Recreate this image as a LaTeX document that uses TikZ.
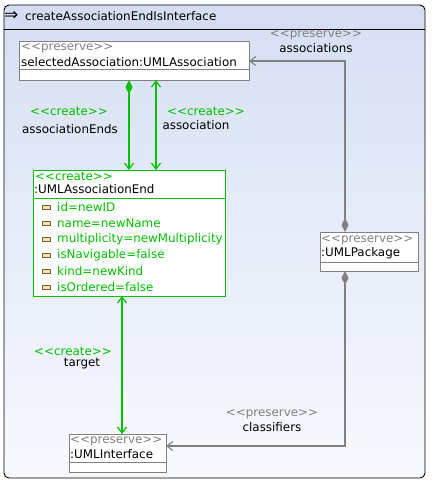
\documentclass[tikz,border=0pt]{standalone}
\usepackage{fontspec}
\setmainfont{DejaVu Sans}[Ligatures=TeXOff]
\usetikzlibrary{arrows.meta,calc}
\definecolor{crgreen}{HTML}{00C000}
\definecolor{prgray}{HTML}{808080}
\definecolor{titlefill}{HTML}{D4DDF2}
\definecolor{bodytop}{HTML}{D7E1F4}
\definecolor{bodybot}{HTML}{F8F9FE}
\definecolor{iconfill}{HTML}{F2E4B0}
\definecolor{iconline}{HTML}{7A6228}
\begin{document}
\begin{tikzpicture}[x=1pt,y=-1pt,
  font=\fontsize{11.9}{13}\selectfont,
  obj/.style={draw=prgray, fill=white, line width=0.9pt, anchor=north west, inner sep=0, rectangle},
  objnew/.style={obj, draw=crgreen},
  txt/.style={anchor=west, inner sep=0},
  lbl/.style={inner sep=0},
  stpres/.style={text=prgray},
  stcre/.style={text=crgreen},
  attricon/.style={draw=iconline, fill=iconfill, line width=0.6pt, minimum width=8pt, minimum height=4pt, inner sep=0, rectangle},
  barb/.tip={Straight Barb[length=6pt,width=9pt]},
  comp/.tip={Diamond[length=14pt,width=7pt]},
  grayln/.style={draw=prgray, line width=1.1pt},
  greenln/.style={draw=crgreen, line width=1.2pt}]
\useasboundingbox (0,0) rectangle (432,485);

% frame with title bar and shaded body
\begin{scope}
  \clip[rounded corners=5pt] (4,5) rectangle (425,478);
  \fill[titlefill] (4,5) rectangle (425,29);
  \shade[top color=bodytop, bottom color=bodybot] (4,29) rectangle (425,478);
\end{scope}
\draw[line width=0.9pt, rounded corners=5pt] (4,5) rectangle (425,478);
\draw[line width=0.9pt] (4,29) -- (425,29);
\node[txt] (arrowsym) at (4,16) {\fontsize{17}{17}\selectfont ⇒};
\node[txt] (title) at (25,16) {createAssociationEndIsInterface};

% selectedAssociation
\node[obj, minimum width=230pt, minimum height=39pt] (sa) at (19,41) {};
\draw[prgray, line width=0.9pt] (19,69) -- (249,69);
\node[txt, stpres] (saS) at (21,48) {<<preserve>>};
\node[txt] (saN) at (21,62) {selectedAssociation:UMLAssociation};

% UMLAssociationEnd
\node[objnew, minimum width=192pt, minimum height=126pt] (ae) at (33,170) {};
\draw[crgreen, line width=0.9pt] (33,198) -- (225,198);
\node[txt, stcre] (aeS) at (35,176) {<<create>>};
\node[txt] (aeN) at (34,189) {:UMLAssociationEnd};
\foreach \k/\t [count=\i] in {0/id=newID,1/name=newName,2/multiplicity=newMultiplicity,3/isNavigable=false,4/kind=newKind,5/isOrdered=false}{
  \node[attricon] (ic\i) at (46,{207+16*\k}) {};
  \node[txt, stcre] (at\i) at (57,{207+16*\k}) {\t};
}

% UMLPackage
\node[obj, minimum width=98pt, minimum height=39pt] (pk) at (320,232) {};
\draw[prgray, line width=0.9pt] (320,262) -- (418,262);
\node[txt, stpres] (pkS) at (321,240) {<<preserve>>};
\node[txt] (pkN) at (321,253) {:UMLPackage};

% UMLInterface
\node[obj, minimum width=97pt, minimum height=38pt] (ui) at (69,434) {};
\draw[prgray, line width=0.9pt] (69,462) -- (166,462);
\node[txt, stpres] (uiS) at (70,441) {<<preserve>>};
\node[txt] (uiN) at (70,454) {:UMLInterface};

% connector end points
\coordinate (pkTop) at (345,232);
\coordinate (pkBot) at (345,271);
\coordinate (saR) at (249,61);
\coordinate (uiR) at (166,446);
\coordinate (saB1) at (129,80);
\coordinate (aeT1) at (129,170);
\coordinate (saB2) at (156,80);
\coordinate (aeT2) at (156,170);
\coordinate (aeB) at (122,296);
\coordinate (uiT) at (122,434);

% associations (preserve)
\draw[grayln, {comp[fill=prgray]}-{barb}] (pkTop) |- (saR);
\node[lbl, stpres] (l1s) at (316,35) {<<preserve>>};
\node[lbl] (l1n) at (316,48) {associations};

% classifiers (preserve)
\draw[grayln, {comp[fill=prgray]}-{barb}] (pkBot) |- (uiR);
\node[lbl, stpres] (l2s) at (272,414) {<<preserve>>};
\node[lbl] (l2n) at (272,427) {classifiers};

% associationEnds (create)
\draw[greenln, {comp[fill=crgreen]}-{barb}] (saB1) -- (aeT1);
\node[lbl, stcre] (l3s) at (69,111) {<<create>>};
\node[lbl] (l3n) at (70,129) {associationEnds};

% association (create)
\draw[greenln, {barb}-{barb}] (saB2) -- (aeT2);
\node[lbl, stcre] (l4s) at (206,111) {<<create>>};
\node[lbl] (l4n) at (196,125) {association};

% target (create)
\draw[greenln, {barb}-{barb}] (aeB) -- (uiT);
\node[lbl, stcre] (l5s) at (73,351) {<<create>>};
\node[lbl] (l5n) at (82,364) {target};
\end{tikzpicture}
\end{document}
